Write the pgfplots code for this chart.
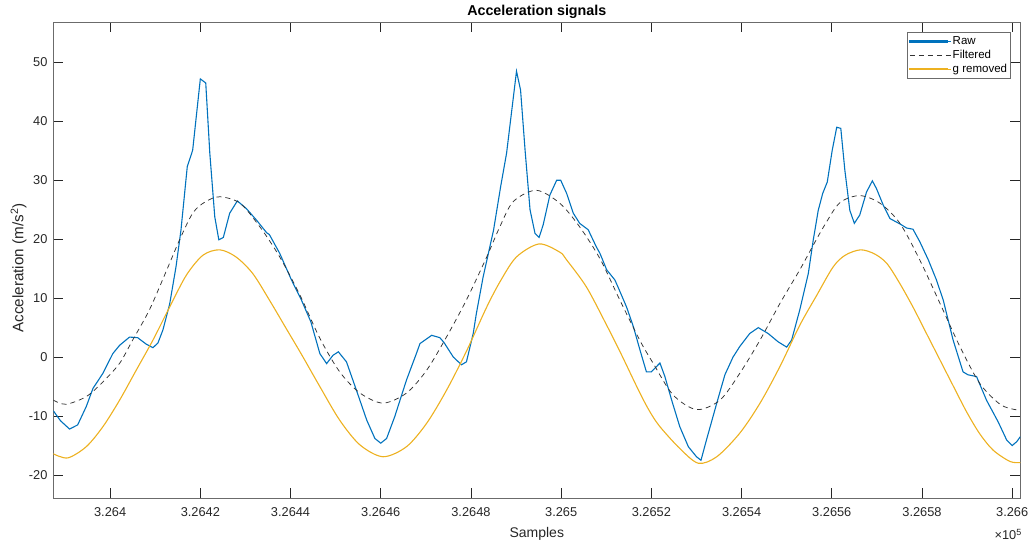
\documentclass[border=0pt]{standalone}
\usepackage{pgfplots}
\pgfplotsset{compat=1.18}
\usepackage{pgfplotstable}
\usepackage{fontspec}
\setmainfont{Liberation Sans}
\definecolor{mblue}{rgb}{0,0.447,0.741}
\definecolor{morange}{rgb}{0.929,0.694,0.125}
\definecolor{maxis}{rgb}{0.15,0.15,0.15}
\definecolor{mbox}{rgb}{0.42,0.42,0.42}
\definecolor{mdash}{rgb}{0.2,0.2,0.2}

% x = sample index - 326000 (ticks labelled in units of 10^5 samples)
\pgfplotstableread{
x y
387.4 -9.1
389.0 -10.8
391.0 -12.2
392.8 -11.5
394.7 -8.4
396.2 -5.3
398.4 -2.75
400.6 0.6
402.1 2.0
404.3 3.4
406.1 3.3
408.0 2.2
409.5 1.6
410.6 2.4
411.7 4.6
413.2 9.0
414.6 15.3
415.7 21.5
417.1 32.3
418.3 35.1
420.0 47.2
421.2 46.5
422.1 34.6
423.2 23.8
424.1 19.9
425.1 20.3
426.5 24.4
428.2 26.5
430.2 25.2
432.5 23.2
434.7 21.1
435.3 20.8
437.6 17.6
440.2 13.1
442.4 9.7
444.5 6.0
446.5 0.6
448.0 -1.1
449.4 0.3
450.6 0.9
452.4 -0.8
454.6 -5.6
456.9 -10.7
458.7 -13.8
460.0 -14.6
461.3 -13.8
463.1 -10.1
465.7 -3.9
467.9 0.6
468.7 2.3
471.3 3.7
473.1 3.3
474.0 2.5
476.1 0.0
477.9 -1.3
479.0 -0.8
480.5 4.0
481.2 7.4
482.7 13.6
485.0 21.5
486.6 29.0
487.9 34.6
490.1 48.5
491.0 45.3
492.0 35.1
493.1 25.0
494.2 21.0
495.1 20.3
496.0 22.4
497.5 27.5
499.0 30.0
499.9 30.0
501.2 27.8
502.7 24.4
504.1 22.7
506.0 21.6
507.8 18.7
508.6 17.6
510.1 14.8
511.9 13.1
512.6 11.9
514.5 8.5
516.0 5.2
517.4 1.4
518.9 -2.5
520.0 -2.5
521.9 -1.0
523.0 -3.3
524.5 -7.3
526.3 -11.8
528.2 -15.2
530.0 -16.9
531.0 -17.5
532.2 -14.1
534.5 -7.8
536.3 -3.0
538.1 0.0
539.6 1.8
541.8 4.0
543.7 5.0
545.9 4.0
548.1 2.6
550.0 1.7
551.1 2.9
552.9 8.0
554.8 14.2
555.9 19.9
557.0 24.9
558.0 27.8
559.0 29.7
560.1 35.1
561.1 39.0
562.0 38.8
562.9 31.7
564.0 24.9
565.0 22.7
566.2 24.1
567.7 28.0
569.0 29.9
569.9 28.6
571.4 25.8
572.9 23.5
575.1 22.6
576.6 21.9
578.0 21.7
579.5 19.6
581.4 16.5
583.2 13.1
584.7 9.7
586.9 2.9
589.1 -2.5
590.2 -3.0
592.1 -3.3
594.3 -7.3
596.9 -11.0
598.8 -14.1
600.0 -15.0
601.0 -14.35
601.8 -13.5
}\rawdata

\pgfplotstableread{
x y
387.4 -7.3
390.2 -8.0
394.7 -6.7
398.4 -4.2
402.1 -1.05
405.0 2.9
408.7 8.0
412.4 14.5
415.4 19.9
418.3 24.4
421.0 26.3
424.3 27.2
428.8 26.1
433.2 22.1
437.6 17.0
442.1 10.5
446.5 3.2
450.9 -2.5
455.4 -6.1
460.5 -7.8
465.7 -6.1
470.2 -2.2
474.6 3.45
479.0 9.7
483.5 17.0
486.4 22.1
489.4 26.4
494.5 28.3
499.7 26.1
504.1 22.1
508.6 16.7
513.0 9.7
517.4 2.9
520.4 -1.05
524.8 -6.4
530.0 -8.9
535.2 -7.3
539.6 -2.75
544.1 2.9
548.5 9.1
552.9 14.8
555.9 19.0
558.5 22.5
561.8 26.2
566.2 27.4
570.7 26.1
575.1 22.7
579.5 16.5
584.0 9.1
588.4 1.8
592.8 -4.45
597.3 -8.0
600.6 -8.9
601.8 -8.9
}\filtdata

\pgfplotstableread{
x y
387.4 -16.4
390.6 -17.1
394.7 -15.2
398.4 -11.8
402.1 -7.3
405.8 -2.2
409.5 2.9
413.2 8.5
416.9 13.9
420.6 17.3
424.3 18.2
427.9 17.0
431.6 14.2
435.3 9.7
439.0 4.9
442.4 0.5
446.5 -5.0
450.9 -10.7
455.4 -14.9
460.5 -16.9
465.7 -15.2
470.2 -11.2
474.6 -5.6
479.0 1.0
483.5 8.5
486.6 13.0
490.1 17.0
495.1 19.2
499.7 17.8
501.2 16.5
505.6 11.9
510.1 5.4
513.0 1.0
517.4 -6.0
519.7 -9.3
521.9 -11.8
526.3 -15.5
530.4 -18.0
534.5 -16.9
539.6 -12.9
544.1 -7.8
548.5 -1.6
552.9 5.4
556.6 10.4
560.3 15.3
563.0 17.3
566.4 18.2
569.5 17.5
572.2 15.9
575.0 12.6
578.0 8.5
581.0 4.0
584.0 -0.5
587.0 -5.0
589.9 -9.3
592.8 -13.0
595.8 -15.8
599.5 -17.7
601.8 -17.9
}\gremdata

\begin{document}
\begin{tikzpicture}
\useasboundingbox (-53.3pt,-49.7pt) rectangle (978.7pt,498.3pt);
\begin{axis}[
  at={(0pt,0pt)}, anchor=south west,
  scale only axis, width=967pt, height=476pt,
  xmin=387.4, xmax=601.8, ymin=-23.95, ymax=56.8,
  xtick={400,420,...,600},
  xticklabels={3.264,3.2642,3.2644,3.2646,3.2648,3.265,3.2652,3.2654,3.2656,3.2658,3.266},
  ytick={-20,-10,...,50},
  scaled x ticks=false, scaled y ticks=false,
  /pgf/number format/assume math mode=true,
  tick align=inside,
  major tick length=10pt,
  tick style={color=maxis, line width=0.9pt},
  axis line style={draw=mbox, line width=0.9pt},
  tick label style={font=\fontsize{12.8}{15}\selectfont, text=maxis},
  xticklabel style={yshift=-6pt},
  yticklabel style={xshift=-2.3pt},
  every axis title/.style={at={(0.5,1)}, anchor=base, yshift=6.3pt,
     font=\fontsize{14.3}{17}\selectfont\bfseries, text=black},
  title={Acceleration signals},
  xlabel={Samples},
  every axis x label/.style={at={(0.5,0)}, anchor=base, yshift=-39pt,
     font=\fontsize{14}{17}\selectfont, text=maxis},
  ylabel={Acceleration (m/s\textsuperscript{2})},
  every axis y label/.style={at={(-0.0310,0.484)}, anchor=base, rotate=90,
     font=\fontsize{15.2}{18}\selectfont, text=maxis},
  no markers,
  legend style={at={(0.9894,0.979)}, anchor=north east, draw=mbox,
     fill=white, font=\fontsize{11.5}{13}\selectfont, inner xsep=2pt, inner ysep=3.5pt,
     row sep=2.6pt, nodes={inner sep=0.8pt}},
  legend cell align=left,
]
\addplot[draw=mblue, line width=1.1pt,
  legend image code/.code={\fill[mblue] (0pt,-0.6pt) rectangle (38pt,0.6pt);\path (0pt,0pt) -- (41.5pt,0pt);}]
  table[x=x,y=y] {\rawdata};
\addlegendentry{Raw}
\addplot[draw=mdash, line width=0.75pt, dash pattern=on 5pt off 4pt, smooth,
  legend image code/.code={\foreach \d in {0,9,18,27}{\fill[mdash] (\d pt,-0.4pt) rectangle (\d pt+5pt,0.4pt);}\fill[mdash] (36pt,-0.4pt) rectangle (38pt,0.4pt);\path (0pt,0pt) -- (41.5pt,0pt);}]
  table[x=x,y=y] {\filtdata};
\addlegendentry{Filtered}
\addplot[draw=morange, line width=1.1pt, smooth,
  legend image code/.code={\fill[morange] (0pt,-0.6pt) rectangle (38pt,0.6pt);\path (0pt,0pt) -- (41.5pt,0pt);}]
  table[x=x,y=y] {\gremdata};
\addlegendentry{g removed}
\end{axis}
\node[anchor=base east, font=\fontsize{12.8}{15}\selectfont, text=maxis, inner sep=0pt] at (968.7pt,-41.7pt) {×10\textsuperscript{5}};
\end{tikzpicture}
\end{document}
